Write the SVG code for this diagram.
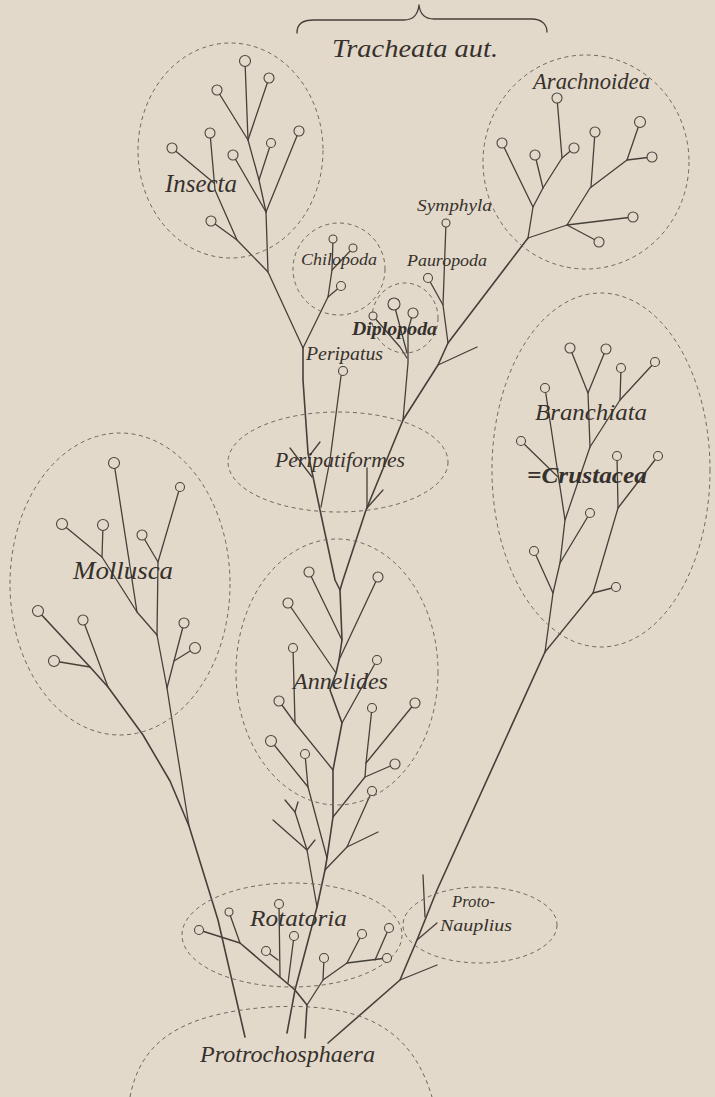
<svg xmlns="http://www.w3.org/2000/svg" width="715" height="1097" viewBox="0 0 715 1097">
<style>
.bg{fill:#e3d9ca}
.c{fill:#e3d9ca;stroke:#4a443d;stroke-width:1.1}
.e{fill:none;stroke:#6e665d;stroke-width:1;stroke-dasharray:4 3.5}
.l{fill:none;stroke:#45403a;stroke-width:1.3;stroke-linejoin:round;stroke-linecap:round}
.k{stroke-width:1.6}
.t{font-family:"Liberation Serif","Times New Roman",serif;font-style:italic;fill:#36312c}
.b{font-weight:bold}
</style>
<rect class="bg" x="0" y="0" width="715" height="1097"/>

<g id="connectors">
<!-- brace -->
<path class="l" d="M297,33 C297,24 302,20 314,20 L404,20 C413,20 418,14 419,5 C420,14 425,19 434,19 L532,19 C541,19 547,24 547,32"/>
<!-- Insecta -->
<polyline class="l" points="245,61 248,140"/>
<polyline class="l" points="269,78 248,140"/>
<polyline class="l" points="217,90 248,140 259,180 266,212"/>
<polyline class="l" points="271,143 259,180"/>
<polyline class="l" points="233,155 266,212"/>
<polyline class="l" points="299,131 266,212"/>
<polyline class="l" points="266,212 268,272 303,348"/>
<polyline class="l" points="210,133 215,190 237,240 268,272"/>
<polyline class="l" points="172,148 214,183"/>
<polyline class="l" points="211,221 237,240"/>
<!-- Chilopoda -->
<polyline class="l" points="333,239 332,270 328,297 303,348"/>
<polyline class="l" points="353,248 332,270"/>
<polyline class="l" points="341,286 328,297"/>
<!-- Peripatus and left arthropod line -->
<polyline class="l k" points="303,348 303,380 308,453 320,510 335,580 340,590"/>
<polyline class="l" points="343,371 341,376 330,460 321,507"/>
<!-- Peripatiformes stubs -->
<polyline class="l" points="290,448 312,477"/>
<polyline class="l" points="320,442 310,455"/>
<polyline class="l" points="367,468 367,508"/>
<polyline class="l" points="383,490 367,508"/>
<!-- right arthropod line -->
<polyline class="l k" points="340,590 343,580 366,510 403,420 438,365 448,343 528,238"/>
<!-- Diplopoda -->
<polyline class="l" points="403,420 408,363 408,330 413,313"/>
<polyline class="l" points="394,304 407,353"/>
<polyline class="l" points="373,316 400,347 407,358"/>
<!-- Symphyla / Pauropoda -->
<polyline class="l" points="446,223 443,305 448,343"/>
<polyline class="l" points="428,278 443,305"/>
<polyline class="l" points="438,365 477,347"/>
<!-- Arachnoidea -->
<polyline class="l" points="502,143 533,207 528,238"/>
<polyline class="l" points="533,207 543,188 562,158 574,148"/>
<polyline class="l" points="535,155 543,188"/>
<polyline class="l" points="557,98 562,158"/>
<polyline class="l" points="528,238 567,225 590,188 627,160 640,122"/>
<polyline class="l" points="627,160 652,157"/>
<polyline class="l" points="595,132 591,187"/>
<polyline class="l" points="567,225 633,217"/>
<polyline class="l" points="567,225 599,242"/>
<!-- Crustacea trunk -->
<polyline class="l k" points="328,1043 400,980 417,940 437,890 545,652"/>
<polyline class="l" points="545,652 553,593 560,563 565,520 590,447 620,400 655,362"/>
<polyline class="l" points="545,652 593,593 618,508 617,456"/>
<polyline class="l" points="593,593 616,587"/>
<polyline class="l" points="618,508 658,456"/>
<polyline class="l" points="553,593 534,551"/>
<polyline class="l" points="560,563 590,513"/>
<polyline class="l" points="565,520 545,388"/>
<polyline class="l" points="521,441 558,477"/>
<polyline class="l" points="590,447 588,393 570,348"/>
<polyline class="l" points="588,393 606,349"/>
<polyline class="l" points="620,400 621,368"/>
<!-- Proto-Nauplius stubs -->
<polyline class="l" points="423,875 425,917"/>
<polyline class="l" points="417,940 437,923"/>
<polyline class="l" points="400,980 437,965"/>
<!-- central trunk -->
<polyline class="l k" points="287,1033 295,990 317,907 325,870 327,858 333,817 333,770 342,723 330,690 336,673 339,660 342,640 340,590"/>
<!-- Annelides -->
<polyline class="l" points="309,572 342,640"/>
<polyline class="l" points="288,603 336,673"/>
<polyline class="l" points="378,577 339,660"/>
<polyline class="l" points="377,660 342,723"/>
<polyline class="l" points="293,648 295,723 333,770"/>
<polyline class="l" points="279,701 295,723"/>
<polyline class="l" points="372,708 366,763 365,777 333,817"/>
<polyline class="l" points="415,703 366,763"/>
<polyline class="l" points="395,764 365,777"/>
<polyline class="l" points="271,741 308,787 327,858"/>
<polyline class="l" points="305,754 308,787"/>
<polyline class="l" points="372,791 347,847 325,870"/>
<polyline class="l" points="347,847 378,832"/>
<polyline class="l" points="273,820 307,850 317,907"/>
<polyline class="l" points="285,800 295,812 307,850"/>
<polyline class="l" points="295,812 298,802"/>
<polyline class="l" points="307,850 315,840"/>
<!-- Rotatoria -->
<polyline class="l k" points="305,1038 307,1005 295,990 240,943 199,930"/>
<polyline class="l" points="229,912 240,943"/>
<polyline class="l" points="279,904 280,977"/>
<polyline class="l" points="266,951 278,960"/>
<polyline class="l" points="294,936 288,983"/>
<polyline class="l" points="307,1005 323,980 347,963 387,958"/>
<polyline class="l" points="324,958 323,980"/>
<polyline class="l" points="362,934 347,963"/>
<polyline class="l" points="389,928 375,960"/>
<!-- Mollusca -->
<polyline class="l k" points="38,611 90,667 108,687 143,735 170,781 189,826 218,920 245,1037"/>
<polyline class="l" points="83,620 108,687"/>
<polyline class="l" points="54,661 90,667"/>
<polyline class="l" points="157,635 167,688 174,733 189,826"/>
<polyline class="l" points="114,463 137,612 157,635"/>
<polyline class="l" points="62,524 102,557 137,612"/>
<polyline class="l" points="103,525 102,557"/>
<polyline class="l" points="180,487 158,562 157,635"/>
<polyline class="l" points="142,535 158,562"/>
<polyline class="l" points="184,623 174,661 167,688"/>
<polyline class="l" points="195,648 174,661"/>
</g>

<g id="tracheata">
<text class="t" x="332" y="57" font-size="25" textLength="166" lengthAdjust="spacingAndGlyphs">Tracheata aut.</text>
</g>

<g id="insecta">
<ellipse class="e" cx="230.5" cy="150.5" rx="92.5" ry="107.5"/>
<circle class="c" cx="245" cy="61" r="5.5"/>
<circle class="c" cx="269" cy="78" r="5"/>
<circle class="c" cx="217" cy="90" r="5"/>
<circle class="c" cx="210" cy="133" r="5"/>
<circle class="c" cx="172" cy="148" r="5"/>
<circle class="c" cx="233" cy="155" r="5"/>
<circle class="c" cx="271" cy="143" r="4.5"/>
<circle class="c" cx="299" cy="131" r="5"/>
<circle class="c" cx="211" cy="221" r="5"/>
<text class="t" x="165" y="192" font-size="25" textLength="72" lengthAdjust="spacingAndGlyphs">Insecta</text>
</g>

<g id="chilopoda">
<ellipse class="e" cx="339" cy="269" rx="46" ry="46"/>
<circle class="c" cx="333" cy="239" r="4"/>
<circle class="c" cx="353" cy="248" r="4"/>
<circle class="c" cx="341" cy="286" r="4.5"/>
<text class="t" x="301" y="265" font-size="17" textLength="76" lengthAdjust="spacingAndGlyphs">Chilopoda</text>
</g>

<g id="symphyla">
<circle class="c" cx="446" cy="223" r="4"/>
<text class="t" x="417" y="211" font-size="16" textLength="75" lengthAdjust="spacingAndGlyphs">Symphyla</text>
</g>

<g id="pauropoda">
<circle class="c" cx="428" cy="278" r="4.5"/>
<text class="t" x="407" y="266" font-size="17" textLength="80" lengthAdjust="spacingAndGlyphs">Pauropoda</text>
</g>

<g id="diplopoda">
<ellipse class="e" cx="405" cy="318" rx="33" ry="35"/>
<circle class="c" cx="394" cy="304" r="6"/>
<circle class="c" cx="413" cy="313" r="5"/>
<circle class="c" cx="373" cy="316" r="4"/>
<text class="t b" x="352" y="335" font-size="19" textLength="85" lengthAdjust="spacingAndGlyphs">Diplopoda</text>
</g>

<g id="peripatus">
<circle class="c" cx="343" cy="371" r="4.5"/>
<text class="t" x="306" y="360" font-size="18" textLength="77" lengthAdjust="spacingAndGlyphs">Peripatus</text>
</g>

<g id="arachnoidea">
<ellipse class="e" cx="586" cy="162" rx="103" ry="107"/>
<circle class="c" cx="557" cy="98" r="5"/>
<circle class="c" cx="502" cy="143" r="5"/>
<circle class="c" cx="535" cy="155" r="5"/>
<circle class="c" cx="574" cy="148" r="5"/>
<circle class="c" cx="595" cy="132" r="5"/>
<circle class="c" cx="640" cy="122" r="5.5"/>
<circle class="c" cx="652" cy="157" r="5"/>
<circle class="c" cx="633" cy="217" r="5"/>
<circle class="c" cx="599" cy="242" r="5"/>
<text class="t" x="533" y="89" font-size="23" textLength="117" lengthAdjust="spacingAndGlyphs">Arachnoidea</text>
</g>

<g id="peripatiformes">
<ellipse class="e" cx="338" cy="462" rx="110" ry="50"/>
<text class="t" x="275" y="467" font-size="22" textLength="130" lengthAdjust="spacingAndGlyphs">Peripatiformes</text>
</g>

<g id="branchiata">
<ellipse class="e" cx="601" cy="470" rx="109" ry="177"/>
<circle class="c" cx="570" cy="348" r="5"/>
<circle class="c" cx="606" cy="349" r="5"/>
<circle class="c" cx="621" cy="368" r="4.5"/>
<circle class="c" cx="655" cy="362" r="4.5"/>
<circle class="c" cx="545" cy="388" r="4.5"/>
<circle class="c" cx="521" cy="441" r="4.5"/>
<circle class="c" cx="617" cy="456" r="4.5"/>
<circle class="c" cx="658" cy="456" r="4.5"/>
<circle class="c" cx="590" cy="513" r="4.5"/>
<circle class="c" cx="534" cy="551" r="4.5"/>
<circle class="c" cx="616" cy="587" r="4.5"/>
<text class="t" x="535" y="420" font-size="24" textLength="112" lengthAdjust="spacingAndGlyphs">Branchiata</text>
<text class="t b" x="527" y="483" font-size="23" textLength="120" lengthAdjust="spacingAndGlyphs">=Crustacea</text>
</g>

<g id="mollusca">
<ellipse class="e" cx="120" cy="584" rx="110" ry="151"/>
<circle class="c" cx="114" cy="463" r="5.5"/>
<circle class="c" cx="180" cy="487" r="4.5"/>
<circle class="c" cx="62" cy="524" r="5.5"/>
<circle class="c" cx="103" cy="525" r="5.5"/>
<circle class="c" cx="142" cy="535" r="5"/>
<circle class="c" cx="38" cy="611" r="5.5"/>
<circle class="c" cx="83" cy="620" r="5"/>
<circle class="c" cx="54" cy="661" r="5.5"/>
<circle class="c" cx="184" cy="623" r="5"/>
<circle class="c" cx="195" cy="648" r="5.5"/>
<text class="t" x="73" y="579" font-size="25" textLength="100" lengthAdjust="spacingAndGlyphs">Mollusca</text>
</g>

<g id="annelides">
<ellipse class="e" cx="337" cy="672" rx="101" ry="133"/>
<circle class="c" cx="309" cy="572" r="5"/>
<circle class="c" cx="378" cy="577" r="5"/>
<circle class="c" cx="288" cy="603" r="5"/>
<circle class="c" cx="293" cy="648" r="4.5"/>
<circle class="c" cx="377" cy="660" r="4.5"/>
<circle class="c" cx="279" cy="701" r="5"/>
<circle class="c" cx="372" cy="708" r="4.5"/>
<circle class="c" cx="415" cy="703" r="5"/>
<circle class="c" cx="271" cy="741" r="5.5"/>
<circle class="c" cx="305" cy="754" r="4.5"/>
<circle class="c" cx="395" cy="764" r="5"/>
<circle class="c" cx="372" cy="791" r="4.5"/>
<text class="t" x="293" y="689" font-size="24" textLength="95" lengthAdjust="spacingAndGlyphs">Annelides</text>
</g>

<g id="rotatoria">
<ellipse class="e" cx="292" cy="935" rx="110" ry="52"/>
<circle class="c" cx="199" cy="930" r="4.5"/>
<circle class="c" cx="229" cy="912" r="4"/>
<circle class="c" cx="279" cy="904" r="4.5"/>
<circle class="c" cx="294" cy="936" r="4.5"/>
<circle class="c" cx="266" cy="951" r="4.5"/>
<circle class="c" cx="324" cy="958" r="4.5"/>
<circle class="c" cx="362" cy="934" r="4.5"/>
<circle class="c" cx="389" cy="928" r="4.5"/>
<circle class="c" cx="387" cy="958" r="4.5"/>
<text class="t" x="250" y="926" font-size="24" textLength="97" lengthAdjust="spacingAndGlyphs">Rotatoria</text>
</g>

<g id="protonauplius">
<ellipse class="e" cx="480" cy="925" rx="77" ry="38"/>
<text class="t" x="452" y="907" font-size="16" textLength="43" lengthAdjust="spacingAndGlyphs">Proto-</text>
<text class="t" x="440" y="931" font-size="17" textLength="72" lengthAdjust="spacingAndGlyphs">Nauplius</text>
</g>

<g id="protrochosphaera">
<path class="e" d="M130,1097 C140,1045 175,1014 270,1007 C365,1002 412,1030 432,1097"/>
<text class="t" x="200" y="1062" font-size="24" textLength="175" lengthAdjust="spacingAndGlyphs">Protrochosphaera</text>
</g>
</svg>
